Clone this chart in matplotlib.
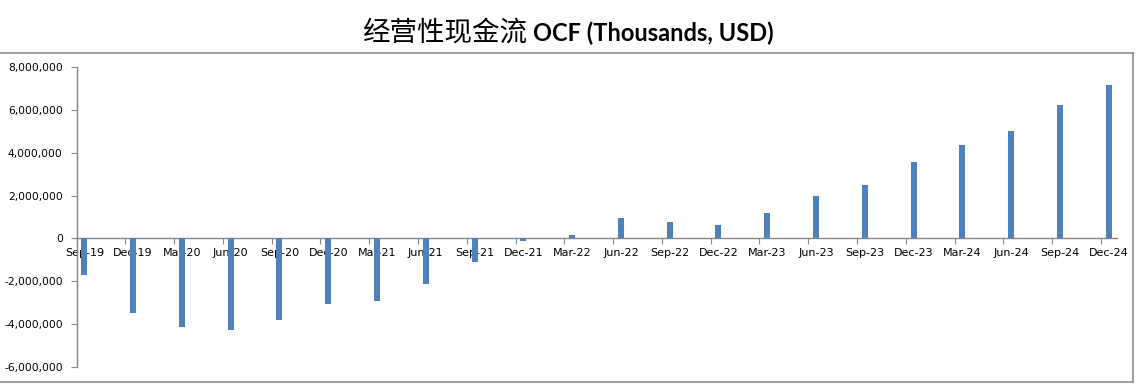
import matplotlib.pyplot as plt
from matplotlib.lines import Line2D
from matplotlib.ticker import FuncFormatter
import numpy as np

# quarter labels and OCF values (thousands USD)
quarters = ['Sep-19', 'Dec-19', 'Mar-20', 'Jun-20', 'Sep-20', 'Dec-20', 'Mar-21',
            'Jun-21', 'Sep-21', 'Dec-21', 'Mar-22', 'Jun-22', 'Sep-22', 'Dec-22',
            'Mar-23', 'Jun-23', 'Sep-23', 'Dec-23', 'Mar-24', 'Jun-24', 'Sep-24', 'Dec-24']
ocf = [-1720000, -3510000, -4140000, -4280000, -3810000, -3060000, -2920000,
       -2150000, -1120000, -110000, 155000, 950000, 760000, 620000,
       1190000, 1980000, 2490000, 3590000, 4380000, 5040000, 6230000, 7150000]
y_ticks = [-6000000, -4000000, -2000000, 0, 2000000, 4000000, 6000000, 8000000]

bar_color = '#4F81BD'
axis_color = '#868686'

fig = plt.figure(figsize=(11.39, 3.87), dpi=100)
ax = fig.add_axes([0.0672, 0.0527, 0.9135, 0.7734])

idx = np.arange(len(quarters))
off = 0.16
ax.bar(idx + off, ocf, width=0.123, color=bar_color, zorder=3)

ax.set_xlim(0, 21.33)
ax.set_ylim(-6000000, 8000000)
ax.set_yticks(y_ticks)
ax.yaxis.set_major_formatter(FuncFormatter(lambda v, p: '{:,.0f}'.format(v)))

# tick marks at category boundaries, labels centred on bars
ax.set_xticks(idx)
ax.set_xticklabels([])
ax.set_xticks(idx + off, minor=True)
ax.set_xticklabels(quarters, minor=True)
ax.tick_params(axis='x', which='major', direction='out', length=4, color=axis_color)
ax.tick_params(axis='x', which='minor', length=0, pad=7, labelsize=8)
ax.tick_params(axis='y', direction='out', length=4, color=axis_color, labelsize=7.7, pad=6)

ax.spines['bottom'].set_position(('data', 0))
for s in ['top', 'right']:
    ax.spines[s].set_visible(False)
for s in ['left', 'bottom']:
    ax.spines[s].set_color(axis_color)
    ax.spines[s].set_linewidth(1)

# chart frame
top_y = 1 - 53.3 / 387
bot_y = 1 - 382 / 387
right_x = 1132.7 / 1139
for xs, ys in [([0, right_x], [top_y, top_y]), ([0, right_x], [bot_y, bot_y]),
               ([right_x, right_x], [bot_y, top_y])]:
    fig.add_artist(Line2D(xs, ys, transform=fig.transFigure, color='#8c8c8c', lw=1.2))

# title: Chinese part regular, Latin part bold
fig.text(527 / 1139, 0.915, '经营性现金流', ha='right', va='center',
         fontsize=19.8, family=['Noto Sans CJK SC', 'DejaVu Sans'])
fig.text(533 / 1139, 0.913, 'OCF (Thousands, USD)', ha='left', va='center',
         fontsize=17, fontweight='bold', family=['Lato', 'DejaVu Sans'])

fig.savefig('out.png', dpi=100)
